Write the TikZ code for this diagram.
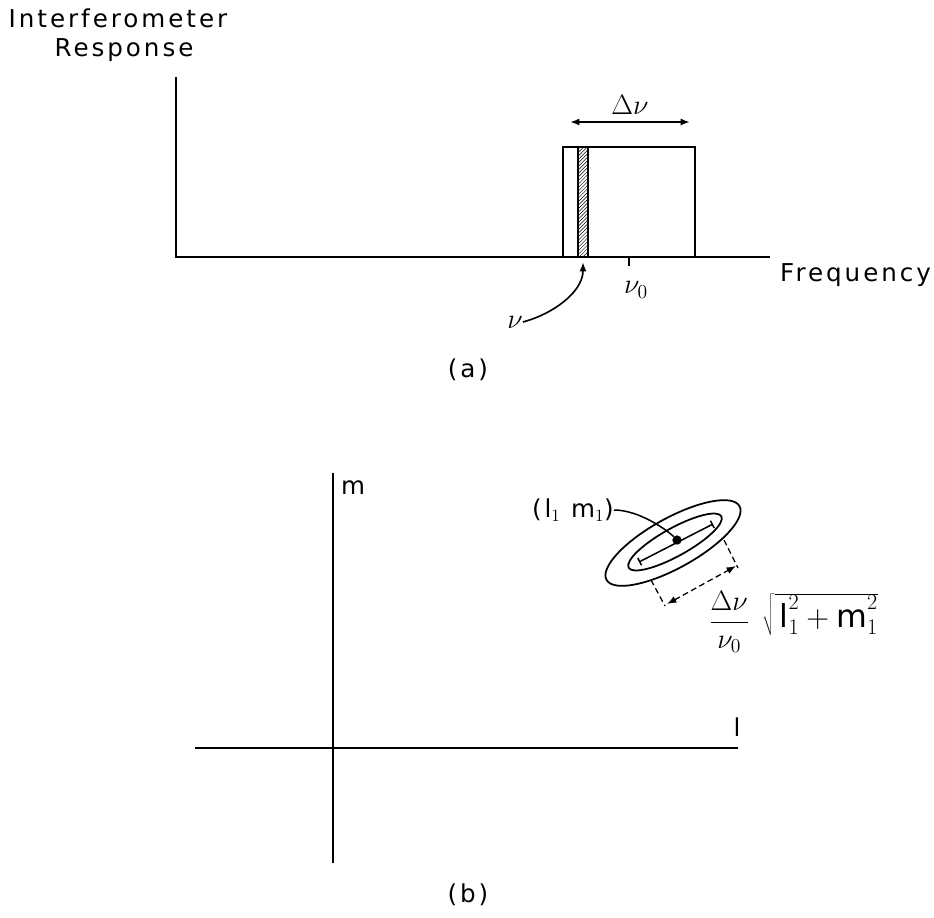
\RequirePackage{fix-cm}
\documentclass[tikz,border=0pt]{standalone}
\usepackage{fontspec}
\setsansfont{DejaVu Sans}
\newfontfamily\lettering{DejaVu Sans}[LetterSpace=12]
\usetikzlibrary{patterns,arrows.meta,calc,positioning}

\tikzset{
  lbl/.style={font=\lettering\fontsize{21}{24}\selectfont, inner sep=0pt},
  mth/.style={font=\fontsize{24}{28}\selectfont, inner sep=0pt},
  axis/.style={black, line width=1.6pt},
  dimline/.style={black, line width=1.1pt, dash pattern=on 5pt off 3pt},
}

\begin{document}
\begin{tikzpicture}[x=0.03cm, y=-0.03cm, >={Latex[length=8pt,width=6pt]}]
\useasboundingbox (0,0) rectangle (934,917);

% (a) response against frequency
\coordinate (o1) at (176,257);
\draw[axis] (176,77) -- (o1) -- (770,257);
\node[lbl] (title1) at (118,18) {Interferometer};
\node[lbl] (title2) at (124,50) {Response};
\node[lbl, anchor=west] (freq) at (780,275) {Frequency};
\draw[axis] (563,257) -- (563,147) -- (695,147) -- (695,257);
\draw[line width=1.4pt, pattern=north east lines] (578,147) rectangle (588,257);
\draw[axis] (629,257) -- (629,266);
\node[mth] (nu0) at (636,290) {$\nu_0$};
\draw[<->, line width=1.4pt] (570,122) -- (690,122) node[midway, above=6pt, mth] (bw) {$\Delta\nu$};
\node[mth] (nu) at (515,322) {$\nu$};
\coordinate (strip) at (583,262);
\draw[->, line width=1.4pt] (nu.east) .. controls +(30,-8) and +(0,30) .. (strip);
\node[lbl] (capa) at (468,370) {(a)};

% (b) the l,m plane
\coordinate (o2) at (333,748);
\draw[axis] (333,473) -- (333,863);
\draw[axis] (195,748) -- (738,748);
\node[lbl] (maxis) at (353,488) {m};
\node[lbl] (laxis) at (737,727) {l};
\draw[line width=1.5pt] (673,543) ellipse [x radius=76, y radius=25, rotate=29];
\draw[line width=1.5pt] (675,542) ellipse [x radius=53, y radius=14, rotate=29];
\coordinate (s1) at (639,562);
\coordinate (s2) at (713,524);
\draw[line width=1.3pt, {Bar[width=7pt]}-{Bar[width=7pt]}] (s1) -- (s2);
\node[circle, fill, inner sep=2.8pt] (src) at (677,540) {};
\node[lbl, anchor=east] (lm) at (614,510) {(l$_1$ m$_1$)};
\draw[line width=1.3pt] (lm.east) .. controls +(25,0) and +(-10,-10) .. (src);

% smearing length
\coordinate (e1) at (724,540);
\coordinate (e1b) at (738,568);
\coordinate (e2) at (651,580);
\coordinate (e2b) at (665,606);
\draw[dimline] (e1) -- (e1b);
\draw[dimline] (e2) -- (e2b);
\draw[dimline, <->] (667,604) -- (736,566);
\node[mth, anchor=west] (ratio) at (709,622) {$\displaystyle\frac{\Delta\nu}{\nu_0}$};
\node[mth, font=\fontsize{27}{30}\selectfont, anchor=south west] (root) at (762,636) {$\sqrt{\,\mathsf{l}_1^2+\mathsf{m}_1^2}$};
\node[lbl] (capb) at (468,895) {(b)};
\end{tikzpicture}
\end{document}
